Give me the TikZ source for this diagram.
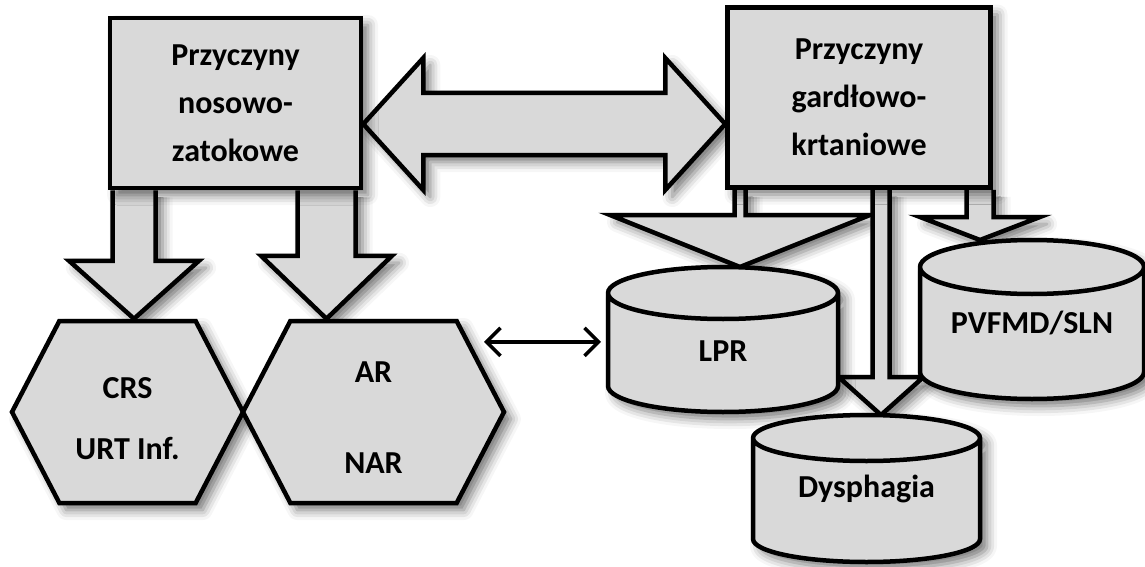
\documentclass[tikz,border=0pt]{standalone}
\usepackage{fontspec}
\setmainfont{Carlito}
\usetikzlibrary{shapes.symbols,arrows.meta,calc,shadows.blur,backgrounds}
\definecolor{Boxgray}{RGB}{217,217,217}
\tikzset{
  shade/.style={blur shadow={shadow xshift=7pt,shadow yshift=-7pt,shadow blur radius=10pt,shadow opacity=55}},
  lbl/.style={align=center,inner sep=0pt,font=\fontsize{32}{48}\selectfont\bfseries},
  bx/.style={lbl,draw,line width=4.5pt,fill=Boxgray,shade},
  hexa/.style={bx,signal,signal to=west and east,signal pointer angle=125},
  drumnode/.style={lbl,rectangle,outer sep=0pt},
  blk/.style={draw,line width=4.5pt,fill=Boxgray,shade},
  link/.style={line width=3.5pt,{Straight Barb[length=14pt,width=28pt]}-{Straight Barb[length=14pt,width=28pt]}}
}
\newcommand{\lift}[2]{\raisebox{#1}[\height][\depth]{#2}}
\newcommand{\drum}[2]{\draw[blk] let \p1=(#1.north west),\p2=(#1.south east),\n1={(\x2-\x1)/2} in
  (\x1,\y1-#2pt) -- (\x1,\y2+#2pt) arc[start angle=180,end angle=360,x radius=\n1,y radius=#2pt]
  -- (\x2,\y1-#2pt) arc[start angle=0,end angle=180,x radius=\n1,y radius=#2pt] -- cycle
  (\x1,\y1-#2pt) arc[start angle=180,end angle=360,x radius=\n1,y radius=#2pt];}
\newcommand{\blkdown}[6]{\draw[blk] let \p1=(#2),\p2=(#3),\p3=(#1,0) in
  (\x3-#4pt,\y1) -- (\x3-#4pt,\y2+#6pt) -- (\x3-#5pt,\y2+#6pt) -- (\x3,\y2)
  -- (\x3+#5pt,\y2+#6pt) -- (\x3+#4pt,\y2+#6pt) -- (\x3+#4pt,\y1);}
\newcommand{\blkdouble}[6]{\draw[blk] let \p1=(#2),\p2=(#3),\p3=(0,#1) in
  (\x1,\y3) -- (\x1+#6pt,\y3+#5pt) -- (\x1+#6pt,\y3+#4pt) -- (\x2-#6pt,\y3+#4pt) -- (\x2-#6pt,\y3+#5pt)
  -- (\x2,\y3) -- (\x2-#6pt,\y3-#5pt) -- (\x2-#6pt,\y3-#4pt) -- (\x1+#6pt,\y3-#4pt) -- (\x1+#6pt,\y3-#5pt) -- cycle;}

\begin{document}
\begin{tikzpicture}[x=1pt,y=-1pt]
  \useasboundingbox (0,0) rectangle (1145,567);
  \node[bx,minimum width=251pt,minimum height=170pt] (nz) at (235.5,103) {Przyczyny\\nosowo-\\zatokowe};
  \node[bx,minimum width=263pt,minimum height=180pt] (gk) at (859,97.5) {Przyczyny\\gardłowo-\\krtaniowe};
  \node[hexa,minimum width=231pt,minimum height=182pt] (crs) at (127.5,412) {\\[-13pt]CRS\\[13pt]URT Inf.};
  \node[hexa,minimum width=261pt,minimum height=182pt] (ar) at (373.5,412) {\\[-17pt]AR\\[43pt]NAR};
  \node[drumnode,minimum width=230pt,minimum height=145pt] (lpr) at (723,339.5) {\lift{-12pt}{LPR}};
  \node[drumnode,minimum width=224pt,minimum height=159pt] (pv) at (1032,319.5) {\lift{-3pt}{PVFMD/SLN}};
  \node[drumnode,minimum width=227pt,minimum height=147pt] (dys) at (866.5,488.5) {Dysphagia};
  \begin{pgfonlayer}{background}
  \blkdown{134}{nz.south}{crs.north}{21.5}{65}{58}
  \blkdown{326.5}{nz.south}{ar.north}{29}{65.5}{63}
  \blkdouble{124}{nz.east}{gk.west}{31}{66}{60}
  \blkdown{740}{gk.south}{lpr.north}{5.5}{130}{52}
  \blkdown{881}{gk.south}{dys.north}{8.5}{42.5}{38}
  \blkdown{980}{gk.south}{pv.north}{13.5}{60}{23}
  \drum{lpr}{26} \drum{pv}{27} \drum{dys}{23}
  \end{pgfonlayer}
  \draw[link,shorten <=14pt,shorten >=7pt] (ar.36) -- (ar.36 -| lpr.west);
\end{tikzpicture}
\end{document}
